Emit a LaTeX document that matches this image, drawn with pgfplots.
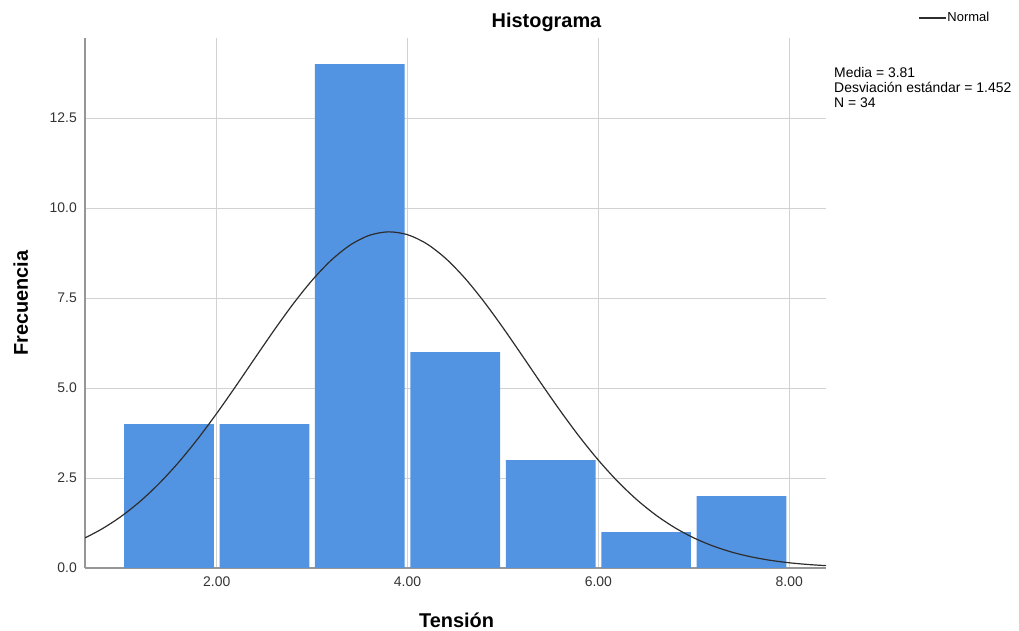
\documentclass[border=0pt]{standalone}
\usepackage{pgfplots}
\pgfplotsset{compat=1.18}
\usepackage{fontspec}
\setmainfont{Liberation Sans}
\definecolor{barblue}{RGB}{83,148,226}
\definecolor{gridc}{RGB}{210,210,210}
\definecolor{axc}{RGB}{150,150,150}
\definecolor{curvec}{RGB}{45,45,45}
\begin{document}
\begin{tikzpicture}
\begin{axis}[
  at={(0,0)}, anchor=south west,
  scale only axis, width=741bp, height=529.7bp,
  xmin=0.62, xmax=8.385, ymin=0, ymax=14.72,
  set layers=standard,
  axis x line*=bottom, axis y line*=left,
  axis line style={draw=axc, line width=1.2bp, /pgfplots/on layer=axis foreground},
  xtick={2,4,6,8}, ytick={0,2.5,5,7.5,10,12.5},
  major tick length=0pt,
  grid=major, major grid style={draw=gridc, line width=1bp},
  tick label style={font=\fontsize{14}{16}\selectfont, inner sep=0pt, text=black!80},
  /pgf/number format/assume math mode=true,
  xticklabel style={yshift=-9bp, /pgf/number format/.cd, fixed, fixed zerofill, precision=2},
  yticklabel style={xshift=-8bp, /pgf/number format/.cd, fixed, fixed zerofill, precision=1},
  legend style={at={(1.1242,1.0383)}, anchor=west, draw=none, fill=none,
    inner xsep=0pt, inner ysep=0pt, nodes={inner sep=1bp},
    font=\fontsize{13}{15}\selectfont},
  legend cell align=left,
  legend image code/.code={\draw[#1] (0bp,0bp) -- (27bp,0bp);},
]
\addplot[ybar, bar width=0.94, fill=barblue, draw=none, forget plot]
  coordinates {(1.5,4)(2.5,4)(3.5,14)(4.5,6)(5.5,3)(6.5,1)(7.5,2)};
\addplot[smooth, draw=curvec, line width=1.2bp, mark=none] coordinates {
(0.62,0.8363)(0.8,1.0894)(1.0,1.4360)(1.2,1.8569)(1.4,2.3562)(1.6,2.9334)
(1.8,3.5834)(2.0,4.2957)(2.2,5.0516)(2.4,5.8301)(2.6,6.6014)(2.8,7.3340)
(3.0,7.9955)(3.2,8.5525)(3.4,8.9765)(3.6,9.2445)(3.8,9.3414)(4.0,9.2620)
(4.2,9.0106)(4.4,8.6014)(4.6,8.0564)(4.8,7.4039)(5.0,6.6769)(5.2,5.9080)
(5.4,5.1288)(5.6,4.3696)(5.8,3.6520)(6.0,2.9954)(6.2,2.4104)(6.4,1.9033)
(6.6,1.4748)(6.8,1.1210)(7.0,0.8363)(7.2,0.6122)(7.4,0.4395)(7.6,0.3097)
(7.8,0.2141)(8.0,0.1453)(8.2,0.0967)(8.385,0.0659)};
\addlegendentry{Normal}
\end{axis}
\node[anchor=base, font=\bfseries\fontsize{20}{24}\selectfont, inner sep=0pt] at (461.5bp,540bp) {Histograma};
\node[anchor=base, font=\bfseries\fontsize{20}{24}\selectfont, inner sep=0pt] at (371.5bp,-59bp) {Tensión};
\node[anchor=base, rotate=90, font=\bfseries\fontsize{20}{24}\selectfont, inner sep=0pt] at (-57bp,265bp) {Frecuencia};
\node[anchor=base west, font=\fontsize{14}{15}\selectfont, inner sep=0pt] at (749bp,490bp) {Media = 3.81};
\node[anchor=base west, font=\fontsize{14}{15}\selectfont, inner sep=0pt] at (749bp,475bp) {Desviación estándar = 1.452};
\node[anchor=base west, font=\fontsize{14}{15}\selectfont, inner sep=0pt] at (749bp,460bp) {N = 34};
\path (-85bp,-63bp) rectangle (934bp,568bp);
\end{tikzpicture}
\end{document}
